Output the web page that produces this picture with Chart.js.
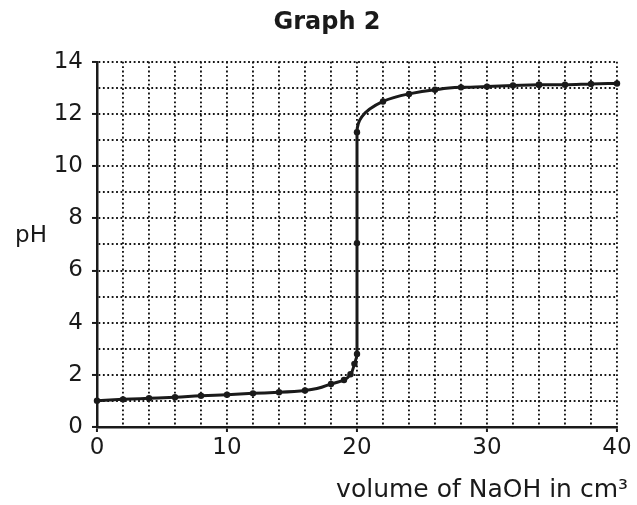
<!DOCTYPE html>
<html>
<head>
<meta charset="utf-8">
<script src="https://cdn.jsdelivr.net/npm/chart.js@4/dist/chart.umd.min.js"></script>
<style>
  html, body { margin: 0; padding: 0; background: #fff; }
  #wrap { width: 637px; height: 505px; position: relative; }
</style>
</head>
<body>
<div id="wrap"><canvas id="c"></canvas></div>
<script>
// ---- data ----
const chartTitle = "Graph 2";
const xAxisTitle = "volume of NaOH in cm³";
const yAxisTitle = "pH";
const volume = [0, 2, 4, 6, 8, 10, 12, 14, 16, 18, 19, 19.5, 19.8, 20, 20, 20, 22, 24, 26, 28, 30, 32, 34, 36, 38, 40];
const pH     = [1.01, 1.06, 1.10, 1.14, 1.20, 1.24, 1.29, 1.33, 1.40, 1.65, 1.80, 2.02, 2.42, 2.80, 7.05, 11.30, 12.48, 12.77, 12.93, 13.02, 13.05, 13.09, 13.12, 13.12, 13.15, 13.17];
const xTickLabels = [0, 10, 20, 30, 40];
const yTickLabels = [0, 2, 4, 6, 8, 10, 12, 14];

const FONT = "'DejaVu Sans', 'Liberation Sans', Arial, sans-serif";
const INK = '#1a1a1a';

const points = volume.map((v, i) => ({ x: v, y: pH[i] }));
// the curve rises steeply, so its rising part is smoothed along the pH axis,
// and the flat tail (where pH repeats) along the volume axis
let tailStart = 0;
for (let i = 1; i < pH.length; i++) { if (pH[i] > pH[i - 1]) tailStart = i; else break; }
const risingPart = points.slice(0, tailStart + 1);
const tailPart = points.slice(tailStart);

const lineStyle = {
  borderColor: INK,
  borderWidth: 3,
  backgroundColor: INK,
  pointRadius: 3.2,
  pointHoverRadius: 3.2,
  pointBorderWidth: 0,
  cubicInterpolationMode: 'monotone',
  fill: false,
  clip: false
};

const extraText = {
  id: 'extraText',
  afterDraw(chart) {
    const ctx = chart.ctx;
    ctx.save();
    ctx.fillStyle = INK;
    ctx.font = "23px " + FONT;
    ctx.textAlign = 'center';
    ctx.textBaseline = 'middle';
    ctx.fillText(yAxisTitle, 31, 236);
    ctx.font = "25px " + FONT;
    ctx.textAlign = 'right';
    ctx.textBaseline = 'alphabetic';
    ctx.fillText(xAxisTitle, 628, 497);
    ctx.restore();
  }
};

new Chart(document.getElementById('c'), {
  type: 'line',
  data: {
    datasets: [
      Object.assign({ data: risingPart, indexAxis: 'y' }, lineStyle),
      Object.assign({ data: tailPart, indexAxis: 'x' }, lineStyle)
    ]
  },
  options: {
    responsive: true,
    maintainAspectRatio: false,
    animation: false,
    events: [],
    layout: { padding: { left: 17, right: 0, top: 0, bottom: 0 } },
    plugins: {
      legend: { display: false },
      tooltip: { enabled: false },
      title: {
        display: true,
        text: chartTitle,
        color: INK,
        font: { family: FONT, size: 24, weight: 'bold' },
        padding: { top: 8, bottom: 25 }
      }
    },
    scales: {
      x: {
        type: 'linear',
        min: 0, max: 40,
        afterFit(s) { s.height = 78; },
        ticks: {
          stepSize: 2,
          autoSkip: false,
          maxRotation: 0,
          padding: 2,
          color: INK,
          font: { family: FONT, size: 23 },
          callback: v => xTickLabels.includes(v) ? String(v) : ''
        },
        grid: {
          color: '#151515',
          lineWidth: 1.9,
          tickLength: 5,
          tickWidth: 2,
          tickColor: c => (c.tick && xTickLabels.includes(c.tick.value)) ? INK : 'rgba(0,0,0,0)'
        },
        border: { display: true, color: INK, width: 2.5, dash: [1.8, 2.6] }
      },
      y: {
        type: 'linear',
        min: 0, max: 14,
        afterFit(s) { s.width = 80; },
        ticks: {
          stepSize: 1,
          autoSkip: false,
          padding: 9,
          color: INK,
          font: { family: FONT, size: 23 },
          callback: v => yTickLabels.includes(v) ? String(v) : ''
        },
        grid: {
          color: '#151515',
          lineWidth: 1.9,
          tickLength: 5,
          tickWidth: 2,
          tickColor: c => (c.tick && yTickLabels.includes(c.tick.value)) ? INK : 'rgba(0,0,0,0)'
        },
        border: { display: true, color: INK, width: 2.5, dash: [1.8, 2.6] }
      },
      yRightSpace: {
        type: 'linear',
        position: 'right',
        min: 0, max: 14,
        afterFit(s) { s.width = 20; },
        ticks: { display: false },
        grid: { display: false, drawOnChartArea: false },
        border: { display: false }
      }
    }
  },
  plugins: [extraText]
});
</script>
</body>
</html>
